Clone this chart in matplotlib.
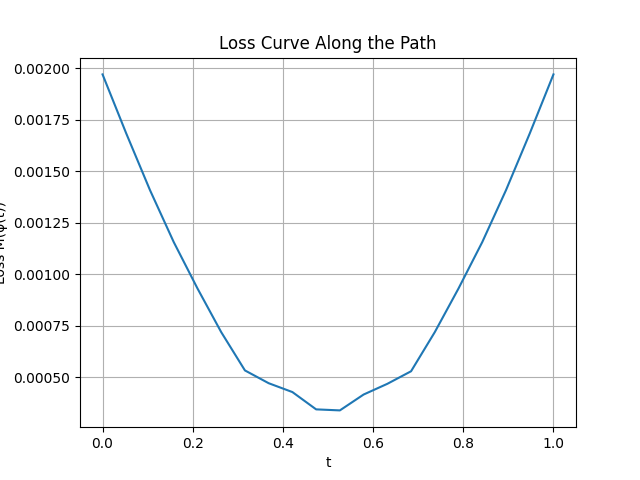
import numpy as np
import matplotlib.pyplot as plt
from matplotlib.ticker import MultipleLocator, FormatStrFormatter

t = np.linspace(0, 1, 20)
loss = [0.001971, 0.001684, 0.001409, 0.001157, 0.000932, 0.000720, 0.000534,
        0.000472, 0.000429, 0.000345, 0.000340, 0.000417, 0.000469, 0.000530,
        0.000720, 0.000932, 0.001157, 0.001409, 0.001684, 0.001971]

plt.figure(figsize=(6.4, 4.8), dpi=100)
plt.plot(t, loss)
plt.xlabel('t')
plt.ylabel('Loss M(φ(t))')
plt.title('Loss Curve Along the Path')
ax = plt.gca()
ax.yaxis.set_major_locator(MultipleLocator(0.00025))
ax.yaxis.set_major_formatter(FormatStrFormatter('%.5f'))
plt.grid()
plt.savefig('out.png')
